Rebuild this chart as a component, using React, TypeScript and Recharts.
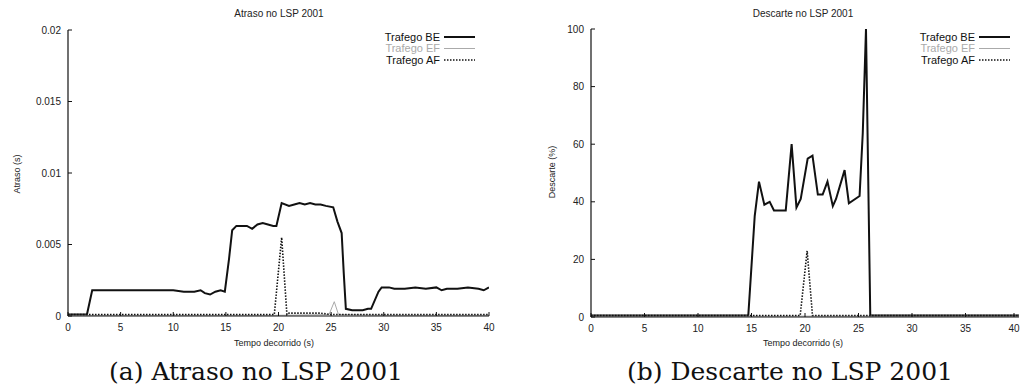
import { Legend, Line, LineChart, XAxis, YAxis } from "recharts";

const timeTicks = [0, 5, 10, 15, 20, 25, 30, 35, 40];
const delayTicks = [0, 0.005, 0.01, 0.015, 0.02];
const dropTicks = [0, 20, 40, 60, 80, 100];
const seriesNames = ["Trafego BE", "Trafego EF", "Trafego AF"];

// Atraso no LSP 2001 (s)
const beDelayT = [0, 1.8, 2.3, 3, 5, 8, 10, 11, 12, 12.6, 13, 13.5, 14, 14.5, 14.9, 15.3, 15.6, 16, 17, 17.5, 18, 18.5, 19, 19.5, 19.8, 20.3, 21, 21.5, 22, 22.5, 23, 23.5, 24, 24.5, 25.2, 25.6, 26.0, 26.2, 26.4, 27, 28, 28.5, 28.8, 29.5, 29.8, 30.5, 31, 32, 33, 34, 35, 35.5, 36, 37, 38, 39, 39.5, 40];
const beDelayV = [0.0001, 0.0001, 0.0018, 0.0018, 0.0018, 0.0018, 0.0018, 0.0017, 0.0017, 0.0018, 0.0016, 0.0015, 0.0017, 0.0018, 0.0017, 0.004, 0.006, 0.0063, 0.0063, 0.0061, 0.0064, 0.0065, 0.0064, 0.0063, 0.0063, 0.0079, 0.0077, 0.0078, 0.0079, 0.0078, 0.0079, 0.0078, 0.0078, 0.0077, 0.0076, 0.0066, 0.0058, 0.003, 0.0005, 0.0004, 0.0004, 0.0005, 0.0005, 0.0017, 0.002, 0.002, 0.0019, 0.0019, 0.002, 0.0019, 0.002, 0.0018, 0.0019, 0.0019, 0.002, 0.0019, 0.0018, 0.002];

const efDelayT = [0, 5, 10, 15, 20, 24.8, 25.3, 25.7, 30, 35, 40];
const efDelayV = [0.00005, 0.00005, 0.00005, 0.00005, 0.00005, 0.0001, 0.001, 0.0001, 0.00005, 0.00005, 0.00005];

const afDelayT = [0, 2, 5, 8, 10, 12, 14, 16, 18, 19.6, 20.3, 20.8, 21, 22, 23, 24, 25, 26, 28, 30, 32, 34, 36, 38, 40];
const afDelayV = [0.0001, 0.0001, 0.0001, 0.0001, 0.0001, 0.0001, 0.0001, 0.0001, 0.0001, 0.0001, 0.0055, 0.0001, 0.0002, 0.0002, 0.0002, 0.0002, 0.0001, 0.0001, 0.0001, 0.0001, 0.0001, 0.0001, 0.0001, 0.0001, 0.0001];

// Descarte no LSP 2001 (%)
const beDropT = [0, 5, 10, 14.7, 15.3, 15.7, 16.2, 16.7, 17.1, 18.2, 18.75, 19.2, 19.6, 20.25, 20.7, 21.2, 21.65, 22.1, 22.6, 22.9, 23.7, 24.1, 25.1, 25.4, 25.7, 26.1, 30, 35, 40];
const beDropV = [0.5, 0.5, 0.5, 0.5, 35, 47, 39, 40, 37, 37, 60, 38, 41, 55, 56, 42.5, 42.5, 47, 38.5, 41, 51, 39.5, 42, 64, 100, 0.5, 0.5, 0.5, 0.5];

const efDropT = [0, 10, 20, 30, 40];
const efDropV = [0.3, 0.3, 0.3, 0.3, 0.3];

const afDropT = [0, 10, 19.55, 20.2, 20.7, 30, 40];
const afDropV = [0.5, 0.5, 0.5, 23, 0.5, 0.5, 0.5];

const zip = (t: number[], v: number[]) => t.map((x, i) => ({ t: x, v: v[i] }));

const FONT = "'Liberation Sans', Arial, sans-serif";
const INK = "#111";
const TICK = 4;

const styles: Record<string, { color: string; width: number; dash?: string }> = {
  "Trafego BE": { color: INK, width: 2 },
  "Trafego EF": { color: "#aaa", width: 1 },
  "Trafego AF": { color: INK, width: 1.6, dash: "1.5 1.5" },
};

// gnuplot-like ticks: short marks pointing into the plot
function axisTick(side: "bottom" | "left" | "top" | "right", gap: number, label: boolean) {
  return (p: any) => {
    const { x, y, payload } = p;
    const txt = { fontSize: 10, fontFamily: FONT, fill: "#222" };
    if (side === "bottom") {
      const y0 = y - gap;
      return (
        <g>
          <line x1={x} y1={y0} x2={x} y2={y0 - TICK} stroke={INK} />
          {label && (
            <text x={x} y={y} dy="0.71em" textAnchor="middle" {...txt}>
              {payload.value}
            </text>
          )}
        </g>
      );
    }
    if (side === "left") {
      const x0 = x + gap;
      return (
        <g>
          <line x1={x0} y1={y} x2={x0 + TICK} y2={y} stroke={INK} />
          {label && (
            <text x={x} y={y} dy="0.35em" textAnchor="end" {...txt}>
              {payload.value}
            </text>
          )}
        </g>
      );
    }
    if (side === "top") {
      return <line x1={x} y1={y} x2={x} y2={y + TICK} stroke={INK} />;
    }
    return <line x1={x} y1={y} x2={x - TICK} y2={y} stroke={INK} />;
  };
}

function LegendBox({ textRight }: { textRight: number }) {
  return (
    <svg width={textRight + 40} height={36}>
      {seriesNames.map((name, i) => {
        const s = styles[name];
        const cy = 6 + i * 11.5;
        return (
          <g key={name}>
            <text x={textRight} y={cy} dy="0.35em" textAnchor="end" fontSize={11} fontFamily={FONT} fill={s.color}>
              {name}
            </text>
            <line x1={textRight + 4} y1={cy} x2={textRight + 35} y2={cy} stroke={s.color} strokeWidth={s.width} strokeDasharray={s.dash} />
          </g>
        );
      })}
    </svg>
  );
}

type PanelProps = {
  left: number;
  margin: { top: number; right: number; bottom: number; left: number };
  yTicks: number[];
  yMax: number;
  be: { t: number; v: number }[];
  ef: { t: number; v: number }[];
  af: { t: number; v: number }[];
  legendLeft: number;
  legendText: number;
};

function Panel({ left, margin, yTicks, yMax, be, ef, af, legendLeft, legendText }: PanelProps) {
  const series = [
    { name: seriesNames[0], data: be },
    { name: seriesNames[1], data: ef },
    { name: seriesNames[2], data: af },
  ];
  return (
    <div style={{ position: "absolute", left, top: 0 }}>
      <LineChart width={511} height={340} margin={margin}>
        <XAxis
          dataKey="t"
          type="number"
          domain={[0, 40]}
          ticks={timeTicks}
          allowDataOverflow
          height={20}
          tickSize={0}
          tickMargin={8}
          tickLine={false}
          axisLine={{ stroke: INK, strokeWidth: 1.2 }}
          tick={axisTick("bottom", 8, true)}
        />
        <XAxis
          xAxisId="top"
          orientation="top"
          type="number"
          domain={[0, 40]}
          ticks={timeTicks}
          height={0}
          tickSize={0}
          tickMargin={0}
          tickLine={false}
          axisLine={{ stroke: INK, strokeWidth: 1.2 }}
          tick={axisTick("top", 0, false)}
        />
        <YAxis
          type="number"
          domain={[0, yMax]}
          ticks={yTicks}
          allowDataOverflow
          width={60}
          tickSize={0}
          tickMargin={7}
          tickLine={false}
          axisLine={{ stroke: INK, strokeWidth: 1.2 }}
          tick={axisTick("left", 7, true)}
        />
        <YAxis
          yAxisId="right"
          orientation="right"
          type="number"
          domain={[0, yMax]}
          ticks={yTicks}
          width={0}
          tickSize={0}
          tickMargin={0}
          tickLine={false}
          axisLine={{ stroke: INK, strokeWidth: 1.2 }}
          tick={axisTick("right", 0, false)}
        />
        <Legend
          layout="vertical"
          align="center"
          verticalAlign="middle"
          wrapperStyle={{ left: legendLeft, top: 31, width: legendText + 40, height: 36 }}
          content={() => <LegendBox textRight={legendText} />}
        />
        {series.map((s) => (
          <Line
            key={s.name}
            name={s.name}
            data={s.data}
            dataKey="v"
            type="linear"
            stroke={styles[s.name].color}
            strokeWidth={styles[s.name].width}
            strokeDasharray={styles[s.name].dash}
            dot={false}
            activeDot={false}
            isAnimationActive={false}
          />
        ))}
      </LineChart>
    </div>
  );
}

const abs = (l: number, t: number, extra: React.CSSProperties = {}): React.CSSProperties => ({
  position: "absolute",
  left: l,
  top: t,
  transform: "translate(-50%, -50%)",
  whiteSpace: "nowrap",
  fontFamily: FONT,
  color: "#222",
  ...extra,
});

export default function App() {
  return (
    <div style={{ position: "fixed", left: 0, top: 0, width: 1022, height: 387, background: "#fff", overflow: "hidden" }}>
      <Panel
        left={0}
        margin={{ top: 30, right: 22, bottom: 4, left: 8 }}
        yTicks={delayTicks}
        yMax={0.02}
        be={zip(beDelayT, beDelayV)}
        ef={zip(efDelayT, efDelayV)}
        af={zip(afDelayT, afDelayV)}
        legendLeft={360}
        legendText={80}
      />
      <Panel
        left={511}
        margin={{ top: 29, right: 3, bottom: 3, left: 20 }}
        yTicks={dropTicks}
        yMax={100}
        be={zip(beDropT, beDropV)}
        ef={zip(efDropT, efDropV)}
        af={zip(afDropT, afDropV)}
        legendLeft={380}
        legendText={84}
      />

      <div style={abs(279, 13, { fontSize: 10 })}>Atraso no LSP 2001</div>
      <div style={abs(803, 13, { fontSize: 10 })}>Descarte no LSP 2001</div>

      <div style={abs(17, 174, { fontSize: 9, transform: "translate(-50%, -50%) rotate(-90deg)" })}>Atraso (s)</div>
      <div style={abs(552, 172, { fontSize: 9, transform: "translate(-50%, -50%) rotate(-90deg)" })}>Descarte (%)</div>

      <div style={abs(274, 343, { fontSize: 9 })}>Tempo decorrido (s)</div>
      <div style={abs(803, 343, { fontSize: 9 })}>Tempo decorrido (s)</div>

      <div style={abs(256, 371, { fontSize: 25, fontFamily: "'DejaVu Serif', serif", color: "#111" })}>(a) Atraso no LSP 2001</div>
      <div style={abs(790, 371, { fontSize: 25, fontFamily: "'DejaVu Serif', serif", color: "#111" })}>(b) Descarte no LSP 2001</div>
    </div>
  );
}
